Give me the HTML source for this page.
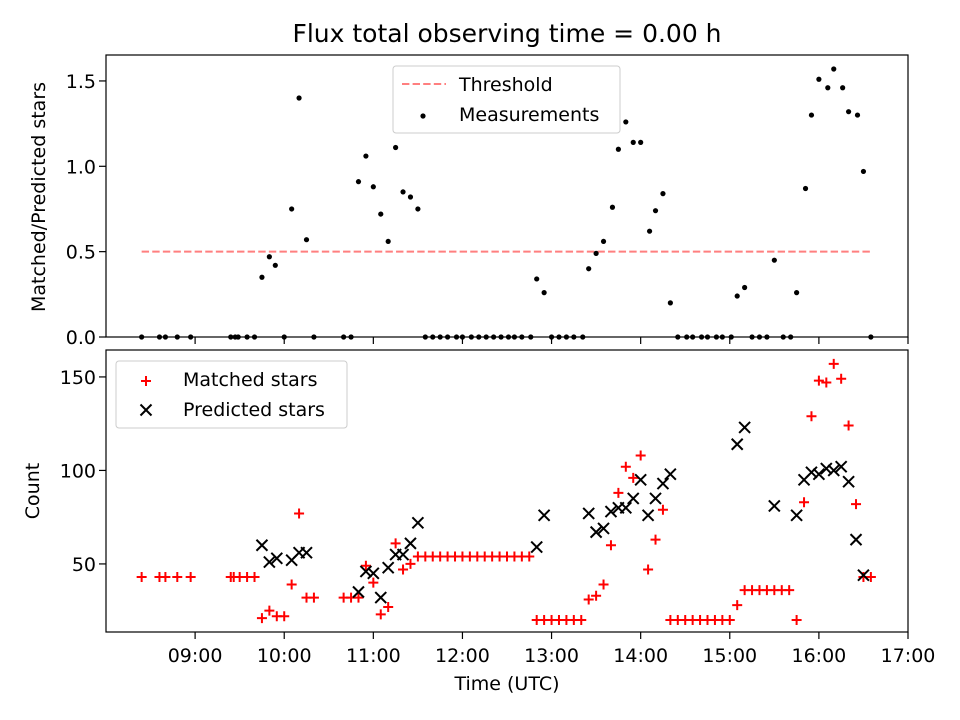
<!DOCTYPE html>
<html><head><meta charset="utf-8"><style>
html,body{margin:0;padding:0;background:#fff}
svg{display:block;font-family:"DejaVu Sans","Liberation Sans",sans-serif}
</style></head><body>
<svg id="fig" width="960" height="720" viewBox="0 0 960 720" xmlns="http://www.w3.org/2000/svg"></svg>
<script>
// Data (time in minutes after 08:00 UTC)
const measTimes=[24,36,40,48,57,84,87,89,95,100,105,110,114,120,125,130,135,140,160,165,170,175,180,185,190,195,200,205,210,215,220,225,230,236,240,246,251,256,261,266,271,275,280,286,290,295,300,305,310,315,321,325,330,335,341,345,350,355,360,366,370,375,380,385,391,395,401,405,411,415,421,425,430,435,440,445,450,456,461,465,471,475,480,486,490,496,500,506,510,515];
const measValues=[0,0,0,0,0,0,0,0,0,0,0.35,0.47,0.42,0,0.75,1.40,0.57,0,0,0,0.91,1.06,0.88,0.72,0.56,1.11,0.85,0.82,0.75,0,0,0,0,0,0,0,0,0,0,0,0,0,0,0,0.34,0.26,0,0,0,0,0,0.40,0.49,0.56,0.76,1.10,1.26,1.14,1.14,0.62,0.74,0.84,0.20,0,0,0,0,0,0,0,0,0.24,0.29,0,0,0,0.45,0,0,0.26,0.87,1.30,1.51,1.46,1.57,1.46,1.32,1.30,0.97,0];
const threshold=0.5;
const matchedTimes=[24,36,40,48,57,84,86,90,95,100,105,110,115,120,125,130,135,140,160,165,170,175,180,185,190,195,200,205,210,215,220,225,230,235,240,245,250,255,260,265,270,275,280,285,290,295,300,305,310,315,320,325,330,335,340,345,350,355,360,365,370,375,380,385,390,395,400,405,410,415,420,425,430,435,440,445,450,455,460,465,470,475,480,485,490,495,500,505,510,515];
const matchedValues=[43,43,43,43,43,43,43,43,43,43,21,25,22,22,39,77,32,32,32,32,32,49,40,23,27,61,47,50,54,54,54,54,54,54,54,54,54,54,54,54,54,54,54,54,20,20,20,20,20,20,20,31,33,39,60,88,102,96,108,47,63,79,20,20,20,20,20,20,20,20,20,28,36,36,36,36,36,36,36,20,83,129,148,147,157,149,124,82,43,43];
const predTimes=[105,110,115,125,130,135,170,175,180,185,190,195,200,205,210,290,295,325,330,335,340,345,350,355,360,365,370,375,380,425,430,450,465,470,475,480,485,490,495,500,505,510];
const predValues=[60,51,53,52,56,56,35,46,45,32,48,55,55,61,72,59,76,77,67,69,78,80,80,85,95,76,85,93,98,114,123,81,76,95,99,98,101,100,102,94,63,44];
const xTickLabels=["09:00","10:00","11:00","12:00","13:00","14:00","15:00","16:00","17:00"];
const topYTicks=[0,0.5,1.0,1.5];
const botYTicks=[50,100,150];

const NS="http://www.w3.org/2000/svg";
const svg=document.getElementById('fig');
function mk(tag,attrs,parent){const e=document.createElementNS(NS,tag);for(const k in attrs)e.setAttribute(k,attrs[k]);(parent||svg).appendChild(e);return e;}
const L=106,R=908,T1=55,B1=337,T2=350,B2=632;
const FS=19;
const xs=m=>L+(m/540)*(R-L);
const y1=v=>B1-(v/1.652)*(B1-T1);
const y2=v=>B2-((v-13.6)/(164.4-13.6))*(B2-T2);

// title
let t=mk('text',{x:507,y:42,'text-anchor':'middle','font-size':25});
t.textContent='Flux total observing time = 0.00 h';



// ---- top panel
const g1=mk('g',{});


let th=mk('line',{x1:xs(measTimes[0]),x2:xs(measTimes[measTimes.length-1]),y1:y1(threshold),y2:y1(threshold),stroke:'#ff7f7f','stroke-width':2,'stroke-dasharray':'7.4,3.2'},g1);


measTimes.forEach((m,i)=>{const c=mk('circle',{cx:xs(m),cy:y1(measValues[i]),r:2.6,fill:'#000'},g1);

});
// ---- bottom panel
const g2=mk('g',{});


matchedTimes.forEach((m,i)=>{const x=xs(m),y=y2(matchedValues[i]);
const p=mk('path',{d:`M${x-5},${y}H${x+5}M${x},${y-5}V${y+5}`,stroke:'#ff0000','stroke-width':2,fill:'none'},g2);

});
predTimes.forEach((m,i)=>{const x=xs(m),y=y2(predValues[i]);
const p=mk('path',{d:`M${x-5.5},${y-5.5}L${x+5.5},${y+5.5}M${x-5.5},${y+5.5}L${x+5.5},${y-5.5}`,stroke:'#000','stroke-width':2,fill:'none'},g2);

});

// axes frames
[[T1,B1],[T2,B2]].forEach(([a,b],k)=>{const r=mk('rect',{x:L,y:a,width:R-L,height:b-a,fill:'none',stroke:'#000','stroke-width':1.2});

});

// x ticks
xTickLabels.forEach((lab,i)=>{const x=xs(60*(i+1));
mk('line',{x1:x,x2:x,y1:B1,y2:B1+7,stroke:'#000','stroke-width':1.2});
mk('line',{x1:x,x2:x,y1:B2,y2:B2+7,stroke:'#000','stroke-width':1.2});
const tx=mk('text',{x:x,y:662,'text-anchor':'middle','font-size':FS});tx.textContent=lab;

});
topYTicks.forEach(v=>{const y=y1(v);mk('line',{x1:L-7,x2:L,y1:y,y2:y,stroke:'#000','stroke-width':1.2});
const tx=mk('text',{x:L-10,y:y+7,'text-anchor':'end','font-size':FS});tx.textContent=v.toFixed(1);

});
botYTicks.forEach(v=>{const y=y2(v);mk('line',{x1:L-7,x2:L,y1:y,y2:y,stroke:'#000','stroke-width':1.2});
const tx=mk('text',{x:L-10,y:y+7,'text-anchor':'end','font-size':FS});tx.textContent=String(v);

});

// axis titles
let xl=mk('text',{x:507,y:690,'text-anchor':'middle','font-size':FS});xl.textContent='Time (UTC)';


let yl1=mk('text',{x:0,y:0,'text-anchor':'middle','font-size':FS,transform:`translate(45,197) rotate(-90)`});yl1.textContent='Matched/Predicted stars';


let yl2=mk('text',{x:0,y:0,'text-anchor':'middle','font-size':FS,transform:`translate(39,491) rotate(-90)`});yl2.textContent='Count';



// legends
const lg1=mk('g',{});


mk('rect',{x:393,y:66,width:227,height:67,rx:3,fill:'#fff','fill-opacity':0.8,stroke:'#ccc'},lg1);
mk('line',{x1:402,x2:446,y1:84,y2:84,stroke:'#ff7f7f','stroke-width':2,'stroke-dasharray':'7.4,3.2'},lg1);
mk('circle',{cx:423,cy:116,r:2.6,fill:'#000'},lg1);
let a=mk('text',{x:459,y:91,'font-size':FS},lg1);a.textContent='Threshold';


a=mk('text',{x:459,y:121,'font-size':FS},lg1);a.textContent='Measurements';



const lg2=mk('g',{});


mk('rect',{x:116,y:361,width:231,height:67,rx:3,fill:'#fff','fill-opacity':0.8,stroke:'#ccc'},lg2);
mk('path',{d:'M141,381H151M146,376V386',stroke:'#f00','stroke-width':2},lg2);
mk('path',{d:'M140.5,404.5L151.5,415.5M140.5,415.5L151.5,404.5',stroke:'#000','stroke-width':2},lg2);
a=mk('text',{x:183,y:386,'font-size':FS},lg2);a.textContent='Matched stars';


a=mk('text',{x:183,y:416,'font-size':FS},lg2);a.textContent='Predicted stars';


</script>
</body></html>
